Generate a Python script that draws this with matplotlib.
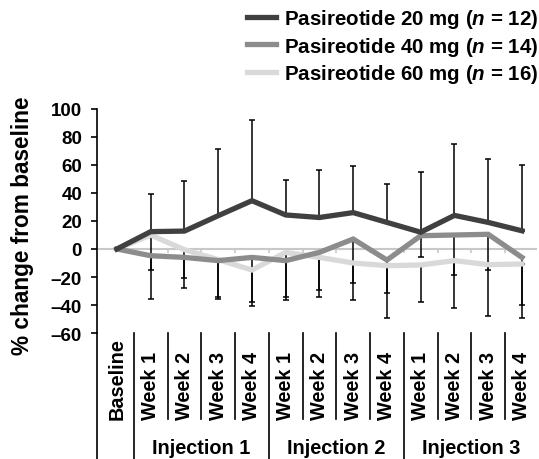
import numpy as np
import matplotlib
matplotlib.use("Agg")
import matplotlib.pyplot as plt
import matplotlib.transforms as mtransforms
from matplotlib.lines import Line2D

plt.rcParams['font.family'] = ['Liberation Sans', 'DejaVu Sans']
plt.rcParams['font.weight'] = 'bold'
plt.rcParams['mathtext.fontset'] = 'custom'
plt.rcParams['mathtext.it'] = 'Liberation Sans:italic:bold'
plt.rcParams['mathtext.rm'] = 'Liberation Sans:bold'

# categories
week_labels = ["Baseline", "Week 1", "Week 2", "Week 3", "Week 4",
               "Week 1", "Week 2", "Week 3", "Week 4",
               "Week 1", "Week 2", "Week 3", "Week 4"]
groups = ["Injection 1", "Injection 2", "Injection 3"]

# mean % change from baseline
mean20 = [0, 12.4, 12.8, 23.8, 34.5, 24.3, 22.5, 26.0, 19.0, 12.0, 24.0, 19.0, 13.0]
mean40 = [0, -4.8, -6.0, -8.3, -6.0, -8.3, -2.4, 7.1, -7.9, 9.5, 10.0, 10.5, -6.0]
mean60 = [0, 10.0, -0.5, -7.6, -15.0, -2.4, -6.0, -10.0, -11.9, -11.4, -8.3, -11.2, -10.7]

# SD (20 mg drawn upward, 40/60 mg drawn downward)
sd20 = [0, 27.0, 35.6, 47.4, 57.4, 25.2, 33.7, 33.6, 27.7, 43.0, 50.7, 45.5, 46.8]
sd40 = [0, 30.9, 21.6, 27.4, 34.5, 28.4, 31.9, 43.5, 41.1, 15.3, 28.3, 25.3, 43.0]
sd60 = [0, 25.0, 20.0, 26.4, 23.0, 31.9, 23.5, 14.0, 19.5, 26.5, 33.7, 36.4, 29.3]

labels = [r"Pasireotide 20 mg ($\it{n}$ = 12)",
          r"Pasireotide 40 mg ($\it{n}$ = 14)",
          r"Pasireotide 60 mg ($\it{n}$ = 16)"]
colors = ["#404040", "#8c8c8c", "#d9d9d9"]

x = np.arange(len(week_labels))
fs = 14.3

fig = plt.figure(figsize=(5.39, 4.6), dpi=100)
ax = fig.add_axes([0.1794, 0.2739, 0.8165, 0.487])
ax.set_xlim(-0.6, 12.44)
ax.set_ylim(-60, 100)

# error bars (black, one-sided)
zeros = np.zeros(len(x) - 1)
ax.errorbar(x[1:], mean20[1:], yerr=[zeros, sd20[1:]], fmt='none', ecolor='black',
            elinewidth=1.1, capsize=2.5, capthick=1.1, zorder=2)
ax.errorbar(x[1:], mean40[1:], yerr=[sd40[1:], zeros], fmt='none', ecolor='black',
            elinewidth=1.1, capsize=2.5, capthick=1.1, zorder=2)
ax.errorbar(x[1:], mean60[1:], yerr=[sd60[1:], zeros], fmt='none', ecolor='black',
            elinewidth=1.1, capsize=2.5, capthick=1.1, zorder=2)

# zero line with small category ticks
ax.axhline(0, color="#c8c8c8", lw=1.5, zorder=1)
seps = x[:-1] + 0.5
ax.vlines(seps, -3, 0, color="#c8c8c8", lw=1.2, zorder=1)

# series lines
ax.plot(x, mean60, color=colors[2], lw=3.8, zorder=3, solid_joinstyle='miter')
ax.plot(x, mean40, color=colors[1], lw=3.8, zorder=4, solid_joinstyle='miter')
ax.plot(x, mean20, color=colors[0], lw=3.8, zorder=5, solid_joinstyle='miter')

# spines / ticks
for s in ["top", "right", "bottom"]:
    ax.spines[s].set_visible(False)
ax.spines["left"].set_linewidth(1.2)
ax.set_yticks(np.arange(-60, 101, 20))
ax.set_yticklabels([f"{v}" if v >= 0 else f"\u2013{-v}" for v in range(-60, 101, 20)],
                   fontsize=13.5, fontweight='bold')
ax.tick_params(axis='y', direction='out', length=4.5, width=1.2, pad=6)
ax.set_xticks([])

# category area below the plot
trans = mtransforms.blended_transform_factory(ax.transData, ax.transAxes)
y_lab = -0.384
y_grp = -0.513
y_bot = -0.57
ax.plot([-0.6, -0.6], [0, y_bot], transform=trans, color='black', lw=1.2, clip_on=False)
for i, s in enumerate(seps):
    bottom = y_bot if i % 4 == 0 else y_lab
    ax.plot([s, s], [0, bottom], transform=trans, color='black', lw=1.2, clip_on=False)
for xi, lab in zip(x, week_labels):
    ax.text(xi, y_lab, lab, transform=trans, rotation=90, ha='center', va='bottom',
            fontsize=fs, fontweight='bold')
for g, name in enumerate(groups):
    ax.text(2.5 + 4 * g, y_grp, name, transform=trans, ha='center', va='center',
            fontsize=fs, fontweight='bold')

fig.text(22.5 / 539, (460 - 226) / 460, "% change from baseline", rotation=90,
         ha='center', va='center', fontsize=16.3, fontweight='bold')

handles = [Line2D([], [], color=c, lw=3.8) for c in colors]
fig.legend(handles, labels, loc='upper left', bbox_to_anchor=(247 / 539, 1 - 8 / 460),
           frameon=False, handlelength=1.4, handletextpad=0.4,
           labelspacing=0.22, borderpad=0, borderaxespad=0,
           prop={'weight': 'bold', 'size': 14.8})

fig.savefig("out.png", dpi=100)
